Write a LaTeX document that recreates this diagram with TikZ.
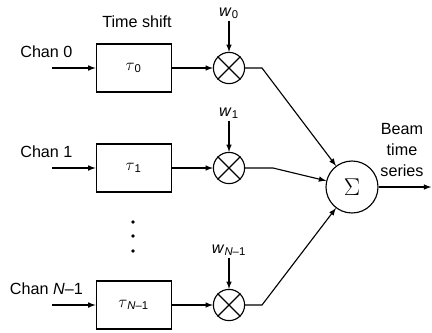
\documentclass[tikz,border=0pt]{standalone}
\usepackage{fontspec}
\setmainfont{Liberation Sans}
\usetikzlibrary{arrows.meta,calc,positioning}

\begin{document}
\begin{tikzpicture}[line width=0.8pt,
  every node/.style={font=\fontsize{11.5}{14}\selectfont},
  delay/.style={draw, minimum width=1.875cm, minimum height=1.2cm, inner sep=0pt},
  mult/.style={draw, circle, minimum size=0.78cm, inner sep=0pt},
  sumnode/.style={draw, circle, minimum size=1.3cm, inner sep=0pt, font=\LARGE},
  lbl/.style={inner sep=1pt}]

\useasboundingbox (0,0) rectangle (10.8,-8.3);

\node[lbl] (shift) at (3.425,-0.55) {Time shift};

% delay boxes
\node[delay] (d0) at (3.34,-1.7)   {$\tau$\textsubscript{0}};
\node[delay] (d1) at (3.34,-4.2)   {$\tau$\textsubscript{1}};
\node[delay] (d2) at (3.34,-7.625) {$\tau$\textsubscript{\textit{N}–1}};

% channel labels and inputs
\node[lbl] (c0) at (1.16,-1.3)   {Chan 0};
\node[lbl] (c1) at (1.16,-3.8)   {Chan 1};
\node[lbl] (c2) at (1.16,-7.22)  {Chan \textit{N}–1};
\coordinate (in0) at (1.3,-1.7);
\coordinate (in1) at (1.3,-4.2);
\coordinate (in2) at (1.3,-7.625);
\draw[-latex] (in0) -- (d0);
\draw[-latex] (in1) -- (d1);
\draw[-latex] (in2) -- (d2);

% dots
\foreach \y in {-5.55,-5.9,-6.275}
  \fill (3.325,\y) circle (1.3pt);

% multipliers and weights
\node[mult] (m0) at (5.725,-1.7)   {};
\node[mult] (m1) at (5.725,-4.2)   {};
\node[mult] (m2) at (5.725,-7.625) {};
\foreach \m in {m0,m1,m2}
  \draw (\m.north west) -- (\m.south east) (\m.north east) -- (\m.south west);
\node[lbl] (w0) at (5.725,-0.33)  {\textit{w}\textsubscript{0}};
\node[lbl] (w1) at (5.725,-2.83)  {\textit{w}\textsubscript{1}};
\node[lbl] (w2) at (5.725,-6.25)  {\textit{w}\textsubscript{\textit{N}–1}};
\draw[-latex] (w0) -- (m0);
\draw[-latex] (w1) -- (m1);
\draw[-latex] (w2) -- (m2);
\draw[-latex] (d0) -- (m0);
\draw[-latex] (d1) -- (m1);
\draw[-latex] (d2) -- (m2);

% summation
\node[sumnode] (sum) at (8.8,-4.675) {$\Sigma$};
\coordinate (k0) at (6.55,-1.7);
\coordinate (k1) at (6.825,-4.2);
\coordinate (k2) at (6.55,-7.625);
\draw[-latex] (m0) -- (k0) -- (sum);
\draw[-latex] (m1) -- (k1) -- (sum);
\draw[-latex] (m2) -- (k2) -- (sum);

% output
\coordinate (out) at (10.78,-4.675);
\draw[-latex] (sum) -- (out);
\node[lbl, align=center] (beam) at (10.05,-3.75) {Beam\\[1pt]time\\[1pt]series};

\end{tikzpicture}
\end{document}
